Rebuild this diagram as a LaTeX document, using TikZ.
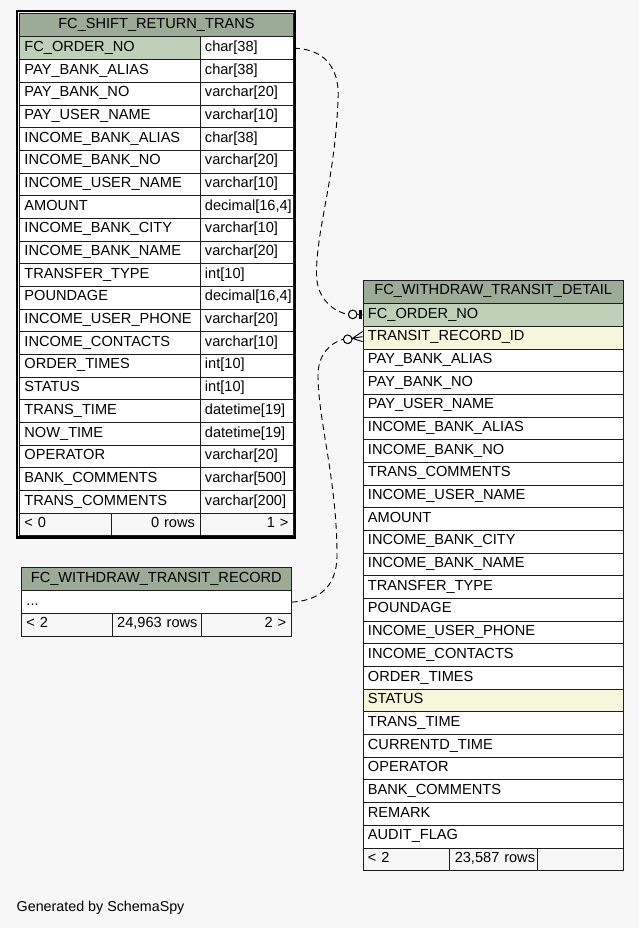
\documentclass[tikz,border=0pt]{standalone}
\usepackage{fontspec}
\setmainfont{Liberation Sans}
\definecolor{bg}{HTML}{F7F7F7}
\definecolor{hdr}{HTML}{9BAB96}
\definecolor{pkc}{HTML}{BED1B8}
\definecolor{idxc}{HTML}{F4F7DA}
\definecolor{bord}{HTML}{1E1E1E}
\newcommand\tfont{\fontsize{14.6}{17}\selectfont}
\begin{document}
\begin{tikzpicture}[x=1pt,y=-1pt,
  cell/.style={draw=bord,line width=0.9pt,anchor=north west,inner xsep=5pt,inner ysep=0pt,
    minimum height=22.68pt,text height=10.5pt,text depth=4.2pt,font=\tfont},
  hcell/.style={cell,fill=hdr,align=center},
  conn/.style={line width=0.9pt,dash pattern=on 6pt off 4pt},
  odotc/.style={circle,draw=black,fill=white,line width=0.9pt,minimum size=8.5pt,inner sep=0pt}]

\fill[bg] (0,0) rectangle (639,928);
\useasboundingbox (0,0) rectangle (639,928);

% ---------- connector waypoints and end circles ----------
\coordinate (c1a) at (338,100);
\coordinate (c1b) at (316.5,275);
\coordinate (c2a) at (337,555);
\coordinate (c2b) at (318,375);
\node[odotc] (o1) at (352.7,314.4) {};
\node[odotc] (o2) at (347.7,339.3) {};

% ---------- left table ----------
\node[hcell,text width=264pt,minimum height=23.2pt] (L0) at (19,13.3) {FC\_SHIFT\_RETURN\_TRANS};
\foreach \n/\t/\c [count=\i] in {
  FC\_ORDER\_NO/char[38]/pkc,
  PAY\_BANK\_ALIAS/char[38]/white,
  PAY\_BANK\_NO/varchar[20]/white,
  PAY\_USER\_NAME/varchar[10]/white,
  INCOME\_BANK\_ALIAS/char[38]/white,
  INCOME\_BANK\_NO/varchar[20]/white,
  INCOME\_USER\_NAME/varchar[10]/white,
  {AMOUNT/decimal[16,4]/white},
  INCOME\_BANK\_CITY/varchar[10]/white,
  INCOME\_BANK\_NAME/varchar[20]/white,
  TRANSFER\_TYPE/int[10]/white,
  {POUNDAGE/decimal[16,4]/white},
  INCOME\_USER\_PHONE/varchar[20]/white,
  INCOME\_CONTACTS/varchar[10]/white,
  ORDER\_TIMES/int[10]/white,
  STATUS/int[10]/white,
  TRANS\_TIME/datetime[19]/white,
  NOW\_TIME/datetime[19]/white,
  OPERATOR/varchar[20]/white,
  BANK\_COMMENTS/varchar[500]/white,
  TRANS\_COMMENTS/varchar[200]/white} {
  \node[cell,fill=\c,text width=170.5pt,align=left] (Ln\i) at (19,{36.5+(\i-1)*22.68}) {\n};
  \node[cell,fill=white,text width=83.5pt,align=left] (Lt\i) at (199.5,{36.5+(\i-1)*22.68}) {\t};
}
\node[cell,fill=bg,text width=81.7pt,align=left] (Lf1) at (19,512.8) {<~0};
\node[cell,fill=bg,text width=78.8pt,align=right] (Lf2) at (110.7,512.8) {0~rows};
\node[cell,fill=bg,text width=83.5pt,align=right] (Lf3) at (199.5,512.8) {1~>};
\draw[line width=2.2pt,draw=black] (17,11.2) rectangle (295.2,537.4);

% ---------- middle table ----------
\node[hcell,text width=259.7pt,minimum height=23.6pt] (M0) at (21,566.7) {FC\_WITHDRAW\_TRANSIT\_RECORD};
\node[cell,fill=white,text width=259.7pt,align=left] (M1) at (21,590.3) {...};
\node[cell,fill=bg,text width=80.7pt,align=left] (Mf1) at (21,612.98) {<~2};
\node[cell,fill=bg,text width=79pt,align=right] (Mf2) at (111.7,612.98) {\mbox{24,963~rows}};
\node[cell,fill=bg,text width=80pt,align=right] (Mf3) at (200.7,612.98) {2~>};

% ---------- right table ----------
\node[hcell,text width=250.5pt,minimum height=23.7pt] (R0) at (362.5,279.5) {FC\_WITHDRAW\_TRANSIT\_DETAIL};
\foreach \n/\c [count=\i] in {
  FC\_ORDER\_NO/pkc,
  TRANSIT\_RECORD\_ID/idxc,
  PAY\_BANK\_ALIAS/white,
  PAY\_BANK\_NO/white,
  PAY\_USER\_NAME/white,
  INCOME\_BANK\_ALIAS/white,
  INCOME\_BANK\_NO/white,
  TRANS\_COMMENTS/white,
  INCOME\_USER\_NAME/white,
  AMOUNT/white,
  INCOME\_BANK\_CITY/white,
  INCOME\_BANK\_NAME/white,
  TRANSFER\_TYPE/white,
  POUNDAGE/white,
  INCOME\_USER\_PHONE/white,
  INCOME\_CONTACTS/white,
  ORDER\_TIMES/white,
  STATUS/idxc,
  TRANS\_TIME/white,
  CURRENTD\_TIME/white,
  OPERATOR/white,
  BANK\_COMMENTS/white,
  REMARK/white,
  AUDIT\_FLAG/white} {
  \node[cell,fill=\c,text width=250.5pt,align=left] (R\i) at (362.5,{303.2+(\i-1)*22.68}) {\n};
}
\node[cell,fill=bg,text width=76.8pt,align=left] (Rf1) at (362.5,847.52) {<~2};
\node[cell,fill=bg,text width=78pt,align=right] (Rf2) at (449.3,847.52) {\mbox{23,587~rows}};
\node[cell,fill=bg,text width=75.7pt,align=right] (Rf3) at (537.3,847.52) {};

% ---------- connectors ----------
\draw[conn] (Lt1.east) .. controls (330,49) and (340,75) .. (c1a)
  .. controls (335,180) and (316,230) .. (c1b)
  .. controls (317,300) and (335,312) .. (o1.west);
\draw[line width=0.9pt] (o1.east) -- (R1.west);
\fill[black] (358.8,309.6) rectangle (361.9,319.2);
\node[odotc] at (o1) {};

\draw[conn] (M1.east) .. controls (315,601) and (337,590) .. (c2a)
  .. controls (337,480) and (318,420) .. (c2b)
  .. controls (318,355) and (330,343) .. (o2.west);
\coordinate (cf) at (352.3,338.4);
\draw[line width=0.9pt] (o2.east) -- (cf);
\draw[line width=0.9pt] (cf) -- (362.5,331.6) (cf) -- (362.5,336.6) (cf) -- (362.5,341.6);
\node[odotc] at (o2) {};

% ---------- footer text ----------
\node[anchor=base west,inner sep=0pt,font=\fontsize{14.3}{17}\selectfont] (gen) at (16.5,911) {Generated by SchemaSpy};
\end{tikzpicture}
\end{document}
